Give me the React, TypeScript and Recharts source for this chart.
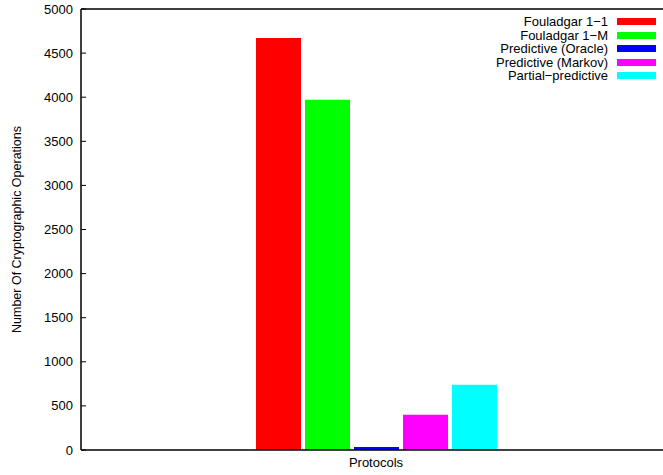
import React from "react";
import { BarChart, Bar, XAxis, YAxis, ReferenceLine, Label } from "recharts";

const categories = ["Protocols"];
const seriesNames = ["Fouladgar 1\u22121", "Fouladgar 1\u2212M", "Predictive (Oracle)", "Predictive (Markov)", "Partial\u2212predictive"];
const seriesKeys = ["f11", "f1m", "oracle", "markov", "partial"];
const seriesColors = ["#ff0000", "#00ff00", "#0000ff", "#ff00ff", "#00ffff"];
const fouladgar11 = [4670];
const fouladgar1M = [3970];
const predictiveOracle = [35];
const predictiveMarkov = [400];
const partialPredictive = [740];
const yTicks = [0, 500, 1000, 1500, 2000, 2500, 3000, 3500, 4000, 4500, 5000];

const seriesValues = [fouladgar11, fouladgar1M, predictiveOracle, predictiveMarkov, partialPredictive];

const data = categories.map((c, i) => {
  const row: any = { name: c };
  seriesKeys.forEach((k, j) => {
    row[k] = seriesValues[j][i];
  });
  return row;
});

const FONT = "'Liberation Sans', Arial, Helvetica, sans-serif";

const YTick = (props: any) => {
  const { x, y, payload } = props;
  return (
    <g>
      <line x1={x + 8} x2={x + 13} y1={y} y2={y} stroke="#000" strokeWidth={1} />
      <text x={x} y={y} dy={4.5} textAnchor="end" fontSize={13} fontFamily={FONT} fill="#000">
        {payload.value}
      </text>
    </g>
  );
};

const LegendBox = () => (
  <div style={{ position: "absolute", top: 15, right: 7, fontFamily: FONT, fontSize: 13, color: "#000" }}>
    {seriesNames.map((n, i) => (
      <div key={n} style={{ display: "flex", alignItems: "center", justifyContent: "flex-end", height: 13.5, lineHeight: "13.5px" }}>
        <span style={{ whiteSpace: "nowrap" }}>{n}</span>
        <span style={{ display: "inline-block", width: 39, height: 7, background: seriesColors[i], marginLeft: 9 }} />
      </div>
    ))}
  </div>
);

export default function App() {
  return (
    <div style={{ position: "absolute", left: 0, top: 0, width: 663, height: 475, background: "#fff", overflow: "hidden" }}>
      <BarChart
        width={663}
        height={475}
        data={data}
        margin={{ top: 9, right: -8, bottom: 0, left: 0 }}
        barSize={45}
        barGap={4}
      >
        <XAxis
          dataKey="name"
          height={25}
          axisLine={{ stroke: "#000", strokeWidth: 1.5 }}
          tickLine={false}
          tick={{ fontSize: 13, fontFamily: FONT, fill: "#000" }}
          tickMargin={2}
        />
        <YAxis
          width={81}
          domain={[0, 5000]}
          ticks={yTicks}
          axisLine={{ stroke: "#000", strokeWidth: 1.5 }}
          tickLine={false}
          tickSize={8}
          tickMargin={0}
          tick={<YTick />}
          interval={0}
        >
          <Label
            value="Number Of Cryptographic Operations"
            angle={-90}
            position="insideLeft"
            offset={17}
            style={{ textAnchor: "middle", fontSize: 12.5, fontFamily: FONT, fill: "#000" }}
          />
        </YAxis>
        <ReferenceLine y={5000} stroke="#000" strokeWidth={1.5} />
        {seriesKeys.map((k, i) => (
          <Bar key={k} dataKey={k} name={seriesNames[i]} fill={seriesColors[i]} isAnimationActive={false} />
        ))}
      </BarChart>
      <LegendBox />
    </div>
  );
}
